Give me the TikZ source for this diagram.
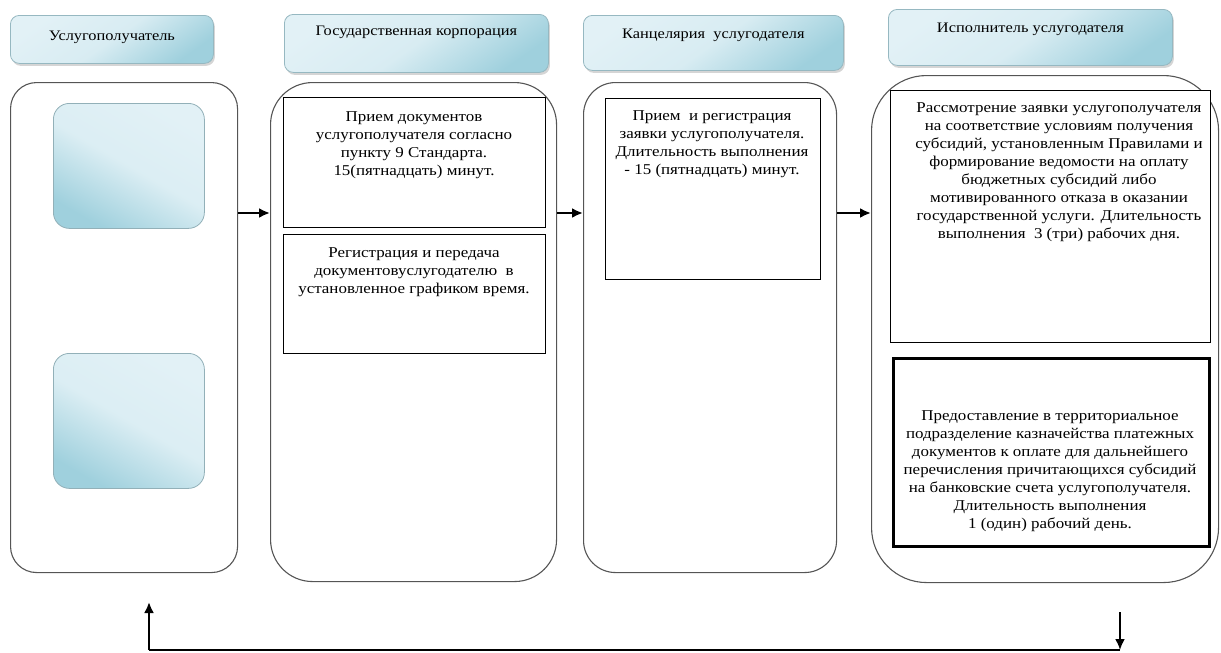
\documentclass[tikz,border=0pt]{standalone}
\usepackage{fontspec}
\setmainfont[FakeStretch=1.13]{Liberation Serif}
\usetikzlibrary{arrows.meta,shadows}
\definecolor{hblue}{HTML}{9FD0DD}
\definecolor{hlight}{HTML}{E2F1F6}
\definecolor{lanegray}{HTML}{555555}
\tikzset{
  hdr/.style={draw=hblue!70!gray, line width=0.8pt, rounded corners=9pt,
    top color=hlight, bottom color=hblue, middle color=hlight!85!hblue, shading angle=35,
    drop shadow={shadow xshift=1.5pt, shadow yshift=-2.5pt, fill=gray!55, opacity=0.6},
    anchor=north west, inner sep=0pt},
  sq/.style={draw=hblue!60!gray, line width=0.8pt, rounded corners=16pt,
    top color=hlight, bottom color=hblue, middle color=hlight!90!hblue, shading angle=-30,
    anchor=north west, inner sep=0pt},
  lane/.style={draw=lanegray, line width=1.1pt, anchor=north west, inner sep=0pt},
  box/.style={draw=black, line width=1.4pt, anchor=north west, inner sep=0pt},
  txt/.style={align=center, font=\fontsize{15}{18}\selectfont, inner sep=0pt, anchor=north},
  htxt/.style={font=\fontsize{14.5}{16}\selectfont, inner sep=0pt},
  arr/.style={line width=2.4pt, -{Latex[length=11pt,width=10pt]}}
}
\begin{document}
\begin{tikzpicture}[x=1pt,y=-1pt]
\useasboundingbox (0,0) rectangle (1221,653);
% headers
\node[hdr, minimum width=203pt, minimum height=48pt] (h1) at (10,15) {};
\node[hdr, minimum width=264pt, minimum height=58pt] (h2) at (284,14) {};
\node[hdr, minimum width=260pt, minimum height=55pt] (h3) at (583,15) {};
\node[hdr, minimum width=284pt, minimum height=56pt] (h4) at (888,9) {};
\node[htxt] (t1) at (h1.center |- 0,37) {Услугополучатель};
\node[htxt] (t2) at (h2.center |- 0,32) {Государственная корпорация};
\node[htxt] (t3) at (h3.center |- 0,35) {Канцелярия\ \ услугодателя};
\node[htxt] (t4) at (h4.center |- 0,29) {Исполнитель услугодателя};
% lanes
\node[lane, rounded corners=26pt, minimum width=227pt, minimum height=490pt] (l1) at (10,82) {};
\node[lane, rounded corners=42pt, minimum width=286pt, minimum height=499pt] (l2) at (270,82) {};
\node[lane, rounded corners=32pt, minimum width=253pt, minimum height=490pt] (l3) at (583,82) {};
\node[lane, rounded corners=55pt, minimum width=347pt, minimum height=507pt] (l4) at (871,75) {};
% squares in lane 1
\node[sq, minimum width=151pt, minimum height=125pt] (s1) at (53,103) {};
\node[sq, minimum width=151pt, minimum height=135pt] (s2) at (53,353) {};
% lane 2 boxes
\node[box, fill=white, minimum width=262pt, minimum height=130pt] (b1) at (283,97) {};
\node[box, fill=white, minimum width=262pt, minimum height=119pt] (b2) at (283,234) {};
\node[txt] (bt1) at (414,111) {Прием документов\\услугополучателя согласно\\пункту 9 Стандарта.\\ 15(пятнадцать) минут.};
\node[txt] (bt2) at (414,247) {Регистрация и передача\\документовуслугодателю\ \ в\\установленное графиком время.};
% lane 3 box
\node[box, line width=1.1pt, fill=white, minimum width=215pt, minimum height=181pt] (b3) at (605,98) {};
\node[txt] (bt3) at (712,110) {Прием\ \ и регистрация\\заявки услугополучателя.\\Длительность выполнения\\- 15 (пятнадцать) минут.};
% lane 4 boxes
\node[box, line width=1.1pt, fill=white, minimum width=320pt, minimum height=252pt] (b4) at (890,90) {};
\node[txt] (bt4) at (1059,102) {Рассмотрение заявки услугополучателя\\на соответствие условиям получения\\субсидий, установленным Правилами и\\формирование ведомости на оплату\\бюджетных субсидий либо\\мотивированного отказа в оказании\\государственной услуги. Длительность\\выполнения\ \ 3 (три) рабочих дня.};
\node[box, line width=3pt, fill=white, minimum width=316pt, minimum height=188pt] (b5) at (892,357) {};
\node[txt] (bt5) at (1050,410) {Предоставление в территориальное\\подразделение казначейства платежных\\документов к оплате для дальнейшего\\перечисления причитающихся субсидий\\на банковские счета услугополучателя.\\Длительность выполнения\\1 (один) рабочий день.};
% arrows between lanes
\coordinate (ya) at (0,213);
\draw[arr] (l1.east |- ya) -- (l2.west |- ya);
\draw[arr] (l2.east |- ya) -- (l3.west |- ya);
\draw[arr] (l3.east |- ya) -- (l4.west |- ya);
% bottom return line
\coordinate (bl) at (149,650);
\coordinate (br) at (1120,650);
\coordinate (bu) at (149,602);
\coordinate (bd) at (1120,612);
\draw[line width=2.8pt] (bl) -- (br);
\draw[arr, line width=2.2pt] (bl) -- (bu);
\draw[arr, line width=2pt] (bd) -- (br);
\end{tikzpicture}
\end{document}
